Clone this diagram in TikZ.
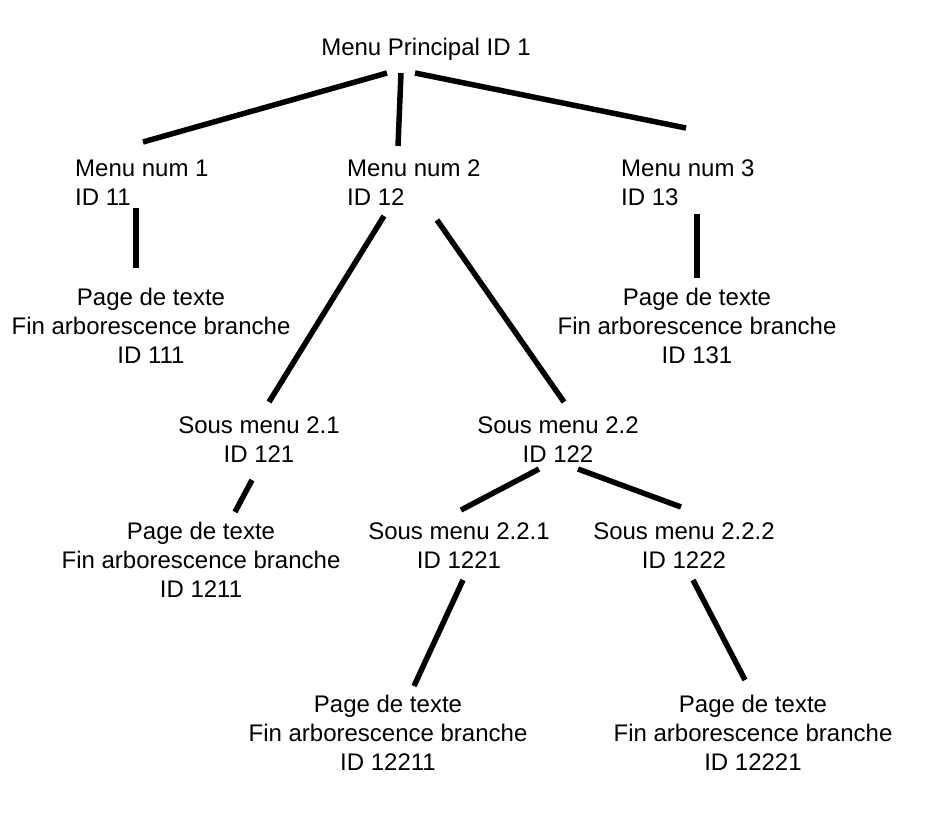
\documentclass[tikz,border=0pt]{standalone}
\usepackage{fontspec}
\setmainfont{Liberation Sans}
\begin{document}
\begin{tikzpicture}[x=1pt,y=-1pt,
  lbl/.style={inner sep=0pt, font=\fontsize{24}{29}\selectfont, align=center},
  lbll/.style={inner sep=0pt, font=\fontsize{24}{29}\selectfont, align=left, anchor=west},
  conn/.style={line width=5.5pt, line cap=butt}]
\fill[white] (0,0) rectangle (939,827);
\useasboundingbox (0,0) rectangle (939,827);
% nodes
\node[lbl] (root) at (426,49) {Menu Principal ID 1};
\node[lbll] (m1) at (75,182.5) {Menu num 1\\ID 11};
\node[lbll] (m2) at (347,182.5) {Menu num 2\\ID 12};
\node[lbll] (m3) at (621,182.5) {Menu num 3\\ID 13};
\node[lbl] (p111) at (151,326) {Page de texte\\Fin arborescence branche\\ID 111};
\node[lbl] (p131) at (697,326) {Page de texte\\Fin arborescence branche\\ID 131};
\node[lbl] (s21) at (259,439.5) {Sous menu 2.1\\ID 121};
\node[lbl] (s22) at (558,439.5) {Sous menu 2.2\\ID 122};
\node[lbl] (p1211) at (201,560) {Page de texte\\Fin arborescence branche\\ID 1211};
\node[lbl] (s221) at (459,545.5) {Sous menu 2.2.1\\ID 1221};
\node[lbl] (s222) at (684,545.5) {Sous menu 2.2.2\\ID 1222};
\node[lbl] (p12211) at (388,733) {Page de texte\\Fin arborescence branche\\ID 12211};
\node[lbl] (p12221) at (753,733) {Page de texte\\Fin arborescence branche\\ID 12221};
% connector end points
\coordinate (rootA) at (387,73); \coordinate (m1T) at (143,142);
\coordinate (rootB) at (401,73); \coordinate (m2T) at (398,146);
\coordinate (rootC) at (415,73); \coordinate (m3T) at (686,128);
\coordinate (m1B) at (136,208); \coordinate (p111T) at (136,268);
\coordinate (m2A) at (384,216); \coordinate (s21T) at (269,402);
\coordinate (m2B) at (437,220); \coordinate (s22T) at (564,402);
\coordinate (m3B) at (697,214); \coordinate (p131T) at (697,278);
\coordinate (s21B) at (252,480); \coordinate (p1211T) at (235,512);
\coordinate (s22A) at (539,469); \coordinate (s221T) at (461,510);
\coordinate (s22B) at (578,469); \coordinate (s222T) at (681,507);
\coordinate (s221B) at (463,580); \coordinate (p12211T) at (414,686);
\coordinate (s222B) at (693,580); \coordinate (p12221T) at (745,680);
% connectors
\draw[conn] (rootA) -- (m1T);
\draw[conn] (rootB) -- (m2T);
\draw[conn] (rootC) -- (m3T);
\draw[conn] (m1B) -- (p111T);
\draw[conn] (m2A) -- (s21T);
\draw[conn] (m2B) -- (s22T);
\draw[conn] (m3B) -- (p131T);
\draw[conn] (s21B) -- (p1211T);
\draw[conn] (s22A) -- (s221T);
\draw[conn] (s22B) -- (s222T);
\draw[conn] (s221B) -- (p12211T);
\draw[conn] (s222B) -- (p12221T);
\end{tikzpicture}
\end{document}
